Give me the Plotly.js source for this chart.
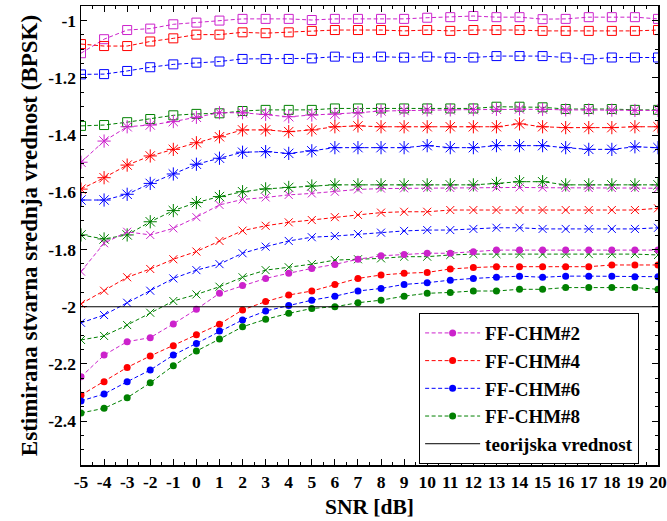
<!DOCTYPE html>
<html>
<head>
<meta charset="utf-8">
<script src="https://cdn.plot.ly/plotly-3.0.1.min.js"></script>
<style>html,body{margin:0;padding:0;background:#fff;}#chart{width:667px;height:521px;}</style>
</head>
<body>
<div id="chart"></div>
<script>
const snr = [-5,-4,-3,-2,-1,0,1,2,3,4,5,6,7,8,9,10,11,12,13,14,15,16,17,18,19,20];

// open squares
const mSq = [-1.114,-1.065,-1.033,-1.028,-1.013,-1.007,-1.000,-0.994,-0.994,-0.994,-0.998,-0.994,-0.994,-0.994,-0.994,-0.990,-0.988,-0.984,-0.988,-0.988,-0.995,-0.994,-0.988,-0.988,-0.988,-0.994];
const rSq = [-1.082,-1.089,-1.089,-1.073,-1.062,-1.049,-1.049,-1.041,-1.044,-1.041,-1.036,-1.033,-1.033,-1.033,-1.036,-1.033,-1.036,-1.033,-1.033,-1.033,-1.036,-1.036,-1.036,-1.036,-1.036,-1.033];
const bSq = [-1.188,-1.187,-1.176,-1.163,-1.153,-1.147,-1.143,-1.134,-1.134,-1.134,-1.132,-1.126,-1.129,-1.126,-1.129,-1.126,-1.129,-1.129,-1.124,-1.124,-1.124,-1.129,-1.135,-1.129,-1.129,-1.129];
const gSq = [-1.368,-1.365,-1.355,-1.344,-1.331,-1.326,-1.324,-1.316,-1.312,-1.312,-1.312,-1.307,-1.307,-1.307,-1.307,-1.307,-1.307,-1.307,-1.301,-1.301,-1.303,-1.309,-1.309,-1.309,-1.312,-1.312];
// asterisks
const mSt = [-1.495,-1.421,-1.371,-1.365,-1.353,-1.338,-1.322,-1.322,-1.328,-1.336,-1.330,-1.327,-1.322,-1.316,-1.314,-1.312,-1.312,-1.311,-1.310,-1.309,-1.310,-1.312,-1.312,-1.313,-1.314,-1.314];
const rSt = [-1.589,-1.549,-1.505,-1.473,-1.450,-1.427,-1.406,-1.382,-1.382,-1.388,-1.382,-1.371,-1.368,-1.371,-1.371,-1.371,-1.371,-1.371,-1.371,-1.361,-1.371,-1.374,-1.374,-1.374,-1.371,-1.371];
const bSt = [-1.627,-1.627,-1.607,-1.569,-1.536,-1.502,-1.481,-1.460,-1.458,-1.464,-1.455,-1.444,-1.444,-1.444,-1.444,-1.437,-1.444,-1.444,-1.437,-1.437,-1.437,-1.444,-1.450,-1.450,-1.441,-1.444];
const gSt = [-1.749,-1.763,-1.749,-1.703,-1.664,-1.636,-1.615,-1.598,-1.588,-1.583,-1.578,-1.574,-1.574,-1.574,-1.574,-1.574,-1.574,-1.574,-1.569,-1.563,-1.563,-1.574,-1.574,-1.574,-1.574,-1.574];
// x marks
const mX = [-1.877,-1.778,-1.738,-1.749,-1.726,-1.687,-1.644,-1.625,-1.618,-1.609,-1.604,-1.598,-1.590,-1.587,-1.586,-1.585,-1.585,-1.584,-1.583,-1.583,-1.584,-1.585,-1.585,-1.585,-1.585,-1.586];
const rX = [-1.990,-1.944,-1.897,-1.868,-1.834,-1.807,-1.770,-1.734,-1.717,-1.705,-1.697,-1.687,-1.679,-1.671,-1.668,-1.668,-1.662,-1.662,-1.662,-1.662,-1.662,-1.662,-1.662,-1.662,-1.662,-1.656];
const bX = [-2.056,-2.029,-1.986,-1.944,-1.901,-1.872,-1.851,-1.813,-1.790,-1.770,-1.757,-1.753,-1.746,-1.741,-1.735,-1.732,-1.732,-1.728,-1.724,-1.724,-1.728,-1.728,-1.728,-1.728,-1.728,-1.724];
const gX = [-2.116,-2.102,-2.064,-2.021,-1.980,-1.957,-1.930,-1.897,-1.872,-1.862,-1.851,-1.837,-1.834,-1.831,-1.825,-1.825,-1.819,-1.816,-1.816,-1.816,-1.816,-1.816,-1.816,-1.816,-1.816,-1.819];
// filled dots (legend series)
const mDot = [-2.245,-2.169,-2.122,-2.108,-2.060,-2.009,-1.953,-1.926,-1.901,-1.883,-1.866,-1.852,-1.834,-1.822,-1.817,-1.813,-1.813,-1.808,-1.802,-1.802,-1.802,-1.802,-1.802,-1.802,-1.802,-1.802];
const rDot = [-2.309,-2.262,-2.212,-2.172,-2.136,-2.098,-2.061,-2.011,-1.982,-1.959,-1.945,-1.922,-1.901,-1.889,-1.883,-1.880,-1.868,-1.863,-1.860,-1.860,-1.860,-1.860,-1.860,-1.854,-1.854,-1.854];
const bDot = [-2.329,-2.305,-2.262,-2.221,-2.169,-2.128,-2.085,-2.046,-2.015,-1.996,-1.977,-1.963,-1.945,-1.936,-1.922,-1.916,-1.907,-1.901,-1.897,-1.893,-1.897,-1.893,-1.893,-1.893,-1.895,-1.895];
const gDot = [-2.371,-2.355,-2.318,-2.266,-2.206,-2.155,-2.113,-2.070,-2.044,-2.023,-2.006,-2.000,-1.986,-1.977,-1.963,-1.953,-1.950,-1.945,-1.945,-1.939,-1.939,-1.933,-1.933,-1.933,-1.933,-1.939];

const theory = -2;
const legendNames = ['FF-CHM#2','FF-CHM#4','FF-CHM#6','FF-CHM#8','teorijska vrednost'];
const xTickVals = snr;
const xTickText = snr.map(String);
const yTickVals = [-2.4,-2.2,-2,-1.8,-1.6,-1.4,-1.2,-1];
const yTickText = ['-2.4','-2.2','-2','-1.8','-1.6','-1.4','-1.2','-1'];

const C = {m:'#cc22cc', r:'#ff0000', b:'#0000ff', g:'#008000'};
const FONT = 'Liberation Serif, Times New Roman, serif';
const DASH = '4px,2.5px';

function tr(y, color, sym, size, name, show) {
  return {
    x: snr, y: y, type: 'scatter', mode: 'lines+markers',
    name: name || '', showlegend: !!show,
    line: {color: color, width: 1, dash: DASH},
    marker: {symbol: sym, size: size, color: color,
             line: {color: color, width: sym === 'circle' ? 0 : 1}},
    hoverinfo: 'x+y'
  };
}

const traces = [
  tr(mSq, C.m, 'square-open', 9), tr(rSq, C.r, 'square-open', 9),
  tr(bSq, C.b, 'square-open', 9), tr(gSq, C.g, 'square-open', 9),
  tr(mSt, C.m, 'asterisk-open', 11), tr(rSt, C.r, 'asterisk-open', 11),
  tr(bSt, C.b, 'asterisk-open', 11), tr(gSt, C.g, 'asterisk-open', 11),
  tr(mX, C.m, 'x-thin-open', 8), tr(rX, C.r, 'x-thin-open', 8),
  tr(bX, C.b, 'x-thin-open', 8), tr(gX, C.g, 'x-thin-open', 8),
  tr(mDot, C.m, 'circle', 7, legendNames[0], true),
  tr(rDot, C.r, 'circle', 7, legendNames[1], true),
  tr(bDot, C.b, 'circle', 7, legendNames[2], true),
  tr(gDot, C.g, 'circle', 7, legendNames[3], true),
  {x: snr, y: snr.map(() => theory), type: 'scatter', mode: 'lines',
   name: legendNames[4], showlegend: true, line: {color: '#000', width: 1}}
];

const axisCommon = {
  showgrid: false, zeroline: false, showline: true, linecolor: '#000', linewidth: 1.5,
  mirror: 'ticks', ticks: 'inside', ticklen: 6, tickwidth: 1, tickcolor: '#000',
  tickfont: {family: FONT, size: 17.5, color: '#000', weight: 'bold'}
};

const layout = {
  width: 667, height: 521,
  margin: {l: 81, r: 9, t: 6, b: 56},
  paper_bgcolor: '#fff', plot_bgcolor: '#fff',
  font: {family: FONT, color: '#000'},
  xaxis: Object.assign({}, axisCommon, {
    range: [-5, 20], tickmode: 'array', tickvals: xTickVals, ticktext: xTickText,
    minor: {tickmode: 'linear', tick0: -5, dtick: 0.5, ticks: 'inside', ticklen: 3, tickcolor: '#000'},
    title: {text: 'SNR [dB]', font: {family: FONT, size: 21.5, color: '#000', weight: 'bold'}, standoff: 8}
  }),
  yaxis: Object.assign({}, axisCommon, {
    range: [-2.553, -0.949], tickmode: 'array', tickvals: yTickVals, ticktext: yTickText,
    minor: {tickmode: 'linear', tick0: -1, dtick: 0.05, ticks: 'inside', ticklen: 3, tickcolor: '#000'},
    title: {text: 'Estimirana stvarna srednja vrednost (BPSK)', font: {family: FONT, size: 23, color: '#000', weight: 'bold'}, standoff: 4}
  }),
  legend: {
    x: 0.586, y: 0.331, xanchor: 'left', yanchor: 'top',
    bgcolor: '#fff', bordercolor: '#000', borderwidth: 1, itemwidth: 55,
    font: {family: FONT, size: 19, color: '#000', weight: 'bold'}
  },
  showlegend: true
};

Plotly.newPlot('chart', traces, layout, {staticPlot: true, displayModeBar: false});
</script>
</body>
</html>
